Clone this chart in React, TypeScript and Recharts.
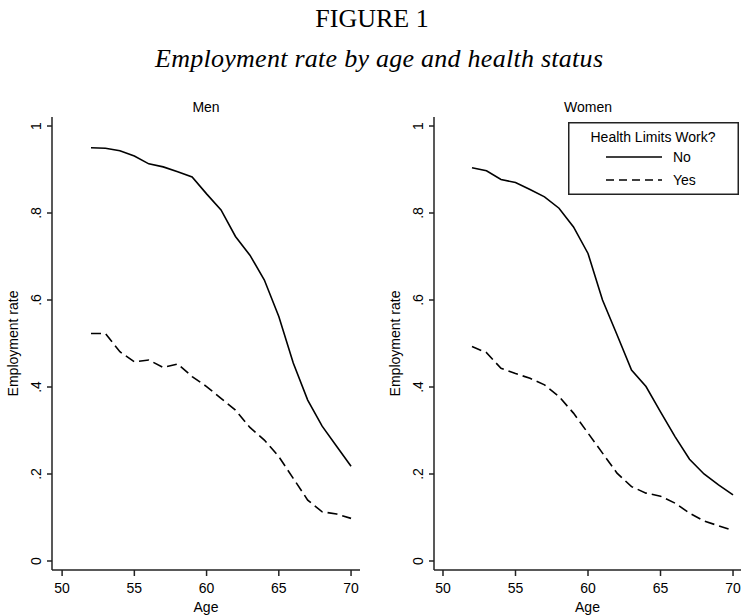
import React from 'react';
import { LineChart, Line, XAxis, YAxis, Legend, Label } from 'recharts';

const ages = [52, 53, 54, 55, 56, 57, 58, 59, 60, 61, 62, 63, 64, 65, 66, 67, 68, 69, 70];
const menNo = [0.95, 0.949, 0.943, 0.931, 0.913, 0.906, 0.895, 0.883, 0.844, 0.807, 0.746, 0.703, 0.646, 0.562, 0.455, 0.37, 0.31, 0.264, 0.218];
const menYes = [0.523, 0.523, 0.481, 0.458, 0.462, 0.445, 0.453, 0.424, 0.401, 0.374, 0.347, 0.307, 0.278, 0.24, 0.19, 0.14, 0.113, 0.108, 0.098];
const womenNo = [0.904, 0.897, 0.877, 0.87, 0.854, 0.837, 0.811, 0.768, 0.707, 0.6, 0.52, 0.439, 0.401, 0.343, 0.286, 0.234, 0.2, 0.175, 0.152];
const womenYes = [0.493, 0.479, 0.443, 0.431, 0.42, 0.405, 0.378, 0.34, 0.294, 0.248, 0.202, 0.171, 0.156, 0.149, 0.133, 0.11, 0.092, 0.081, 0.07];
const xTicks = [50, 55, 60, 65, 70];
const yTicks = [0, 0.2, 0.4, 0.6, 0.8, 1];
const yTickLabels = ['0', '.2', '.4', '.6', '.8', '1'];
const seriesNames = ['No', 'Yes'];

const menData = ages.map((a, i) => ({ age: a, No: menNo[i], Yes: menYes[i] }));
const womenData = ages.map((a, i) => ({ age: a, No: womenNo[i], Yes: womenYes[i] }));

const SANS = '"Liberation Sans", Arial, Helvetica, sans-serif';
const SERIF = '"Liberation Serif", "Times New Roman", serif';
const AXIS = '#222';

const YTick = (p: any) => {
  const idx = yTicks.indexOf(p.payload.value);
  const lbl = idx >= 0 ? yTickLabels[idx] : String(p.payload.value);
  const x = p.x - 6;
  return (
    <text x={x} y={p.y} transform={`rotate(-90 ${x} ${p.y})`} textAnchor="middle" fontSize={14} fontFamily={SANS} fill="#000">
      {lbl}
    </text>
  );
};

const XTick = (p: any) => (
  <text x={p.x} y={p.y + 10} textAnchor="middle" fontSize={14} fontFamily={SANS} fill="#000">
    {p.payload.value}
  </text>
);

const YLabel = (props: any) => {
  const vb = props.viewBox || { x: 12, y: 117, width: 40, height: 453 };
  const x = vb.x + vb.width - 34;
  const y = vb.y + vb.height / 2;
  return (
    <text x={x} y={y} transform={`rotate(-90 ${x} ${y})`} textAnchor="middle" fontSize={14} fontFamily={SANS} fill="#000">
      Employment rate
    </text>
  );
};

const XLabel = (props: any) => {
  const vb = props.viewBox || { x: 52, y: 570, width: 308, height: 46 };
  return (
    <text x={vb.x + vb.width / 2} y={vb.y + 42} textAnchor="middle" fontSize={14} fontFamily={SANS} fill="#000">
      Age
    </text>
  );
};

const LegendBox = () => (
  <svg width={171} height={73} style={{ display: 'block', overflow: 'visible' }}>
    <rect x={0.75} y={0.75} width={169.5} height={71.5} fill="#fff" stroke={AXIS} strokeWidth={1.5} />
    <text x={85} y={20} textAnchor="middle" fontSize={14} fontFamily={SANS} fill="#000">Health Limits Work?</text>
    <line x1={38} x2={94} y1={35} y2={35} stroke="#000" strokeWidth={1.6} />
    <text x={105} y={40} fontSize={14} fontFamily={SANS} fill="#000">{seriesNames[0]}</text>
    <line x1={38} x2={94} y1={58} y2={58} stroke="#000" strokeWidth={1.6} strokeDasharray="8 5" />
    <text x={105} y={63} fontSize={14} fontFamily={SANS} fill="#000">{seriesNames[1]}</text>
  </svg>
);

const Panel = ({ data, domain, margin, width, legend }: any) => (
  <LineChart width={width} height={616} data={data} margin={margin}>
    <XAxis
      dataKey="age"
      type="number"
      domain={domain}
      ticks={xTicks}
      allowDataOverflow
      height={46}
      stroke={AXIS}
      strokeWidth={1.5}
      tickSize={6}
      tickMargin={7}
      tick={<XTick />}
    >
      <Label content={<XLabel />} />
    </XAxis>
    <YAxis
      type="number"
      domain={[-0.0207, 1.0207]}
      ticks={yTicks}
      allowDataOverflow
      width={40}
      stroke={AXIS}
      strokeWidth={1.5}
      tickSize={5}
      tickMargin={0}
      tick={<YTick />}
    >
      <Label content={<YLabel />} />
    </YAxis>
    {legend ? (
      <Legend
        content={<LegendBox />}
        wrapperStyle={{ position: 'absolute', left: 198, top: 122, width: 0, height: 0, overflow: 'visible' }}
      />
    ) : null}
    <Line dataKey="No" name={seriesNames[0]} stroke="#000" strokeWidth={1.6} dot={false} isAnimationActive={false} />
    <Line dataKey="Yes" name={seriesNames[1]} stroke="#000" strokeWidth={1.6} strokeDasharray="10 5" dot={false} isAnimationActive={false} />
  </LineChart>
);

export default function App() {
  return (
    <div style={{ position: 'absolute', left: 0, top: 0, width: 741, height: 616, background: '#fff', overflow: 'hidden' }}>
      <div style={{ position: 'absolute', left: 0, top: 0 }}>
        <Panel data={menData} domain={[49.3, 70.62]} margin={{ top: 117, right: 10, bottom: 0, left: 12 }} width={370} legend={false} />
      </div>
      <div style={{ position: 'absolute', left: 370, top: 0 }}>
        <Panel data={womenData} domain={[49.38, 70.55]} margin={{ top: 117, right: 0, bottom: 0, left: 24 }} width={371} legend={true} />
      </div>
      <svg width={741} height={120} style={{ position: 'absolute', left: 0, top: 0, pointerEvents: 'none' }}>
        <text x={372} y={27} textAnchor="middle" fontSize={26} fontFamily={SERIF} fill="#000">FIGURE 1</text>
        <text x={379} y={67} textAnchor="middle" fontSize={26} fontStyle="italic" fontFamily={SERIF} fill="#000" textLength={448} lengthAdjust="spacing">
          Employment rate by age and health status
        </text>
        <text x={206} y={112} textAnchor="middle" fontSize={14} fontFamily={SANS} fill="#000">Men</text>
        <text x={588} y={112} textAnchor="middle" fontSize={14} fontFamily={SANS} fill="#000">Women</text>
      </svg>
    </div>
  );
}
